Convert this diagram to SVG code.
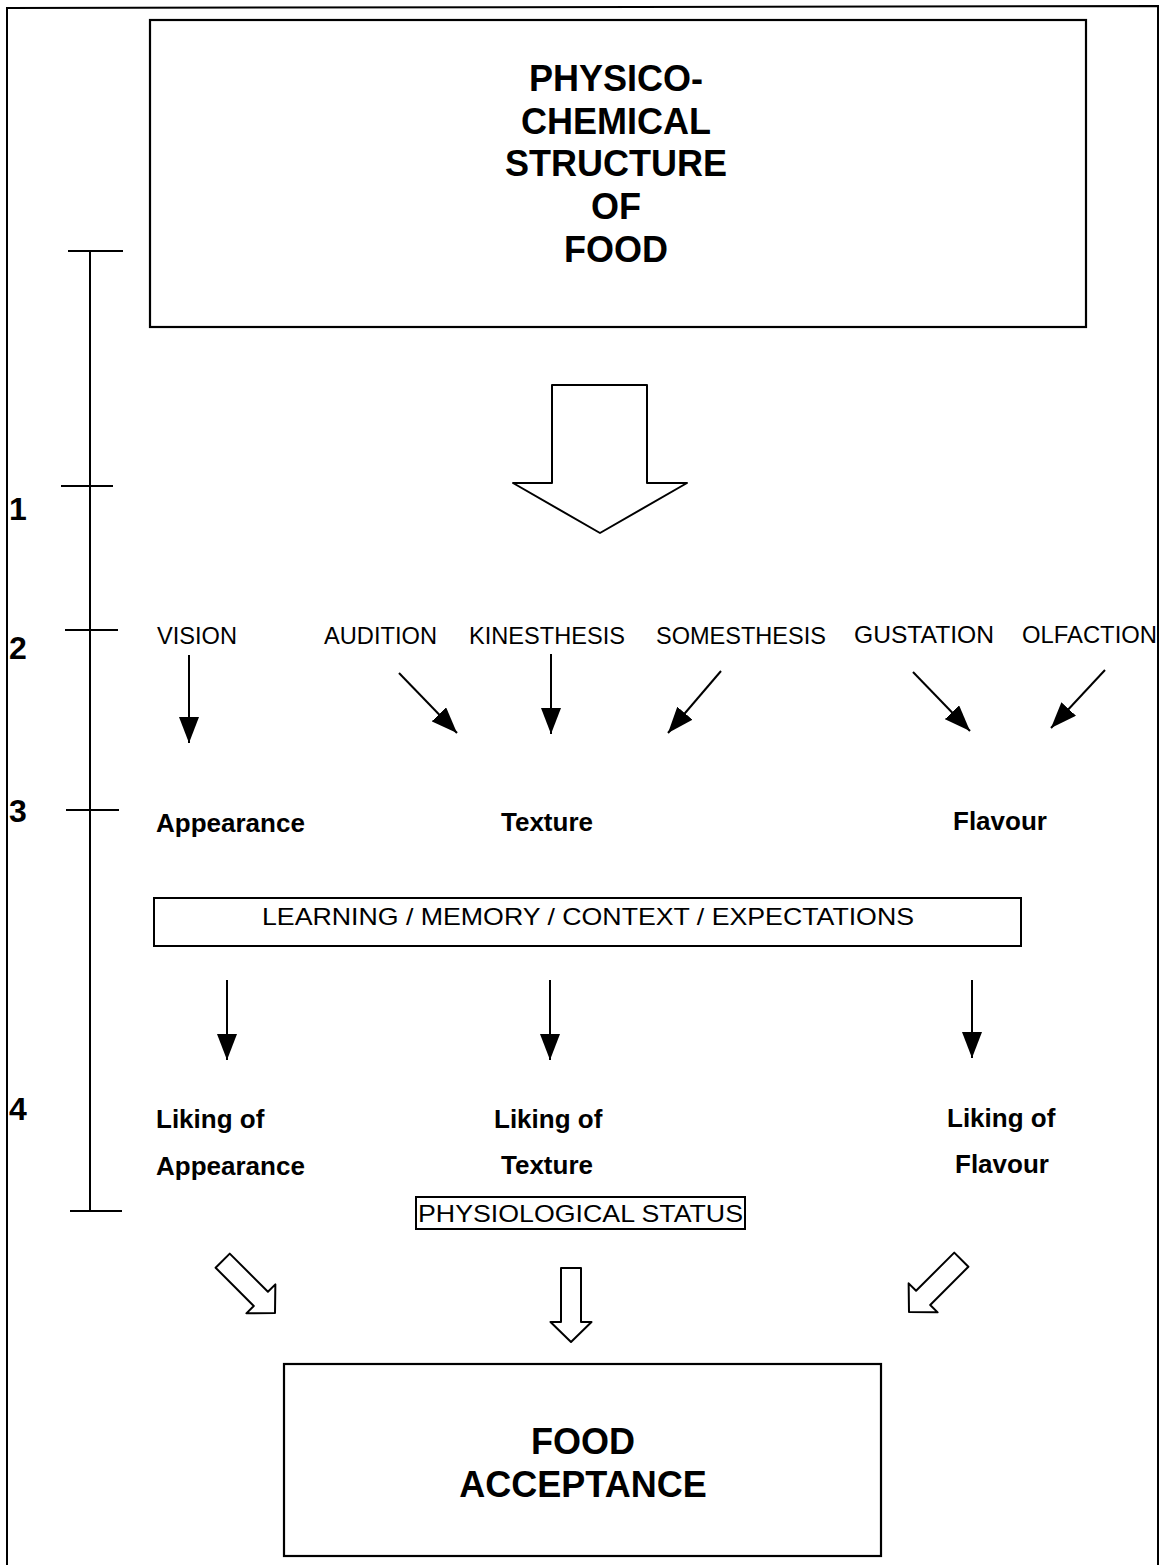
<svg xmlns="http://www.w3.org/2000/svg" width="1162" height="1565" viewBox="0 0 1162 1565">
<defs>
<style>
.box{fill:none;stroke:#000;stroke-width:2.2}
.ln{fill:none;stroke:#000;stroke-width:2}
.hol{fill:#fff;stroke:#000;stroke-width:2;stroke-linejoin:round}
.big{font-family:"Liberation Sans",Arial,sans-serif;font-weight:bold;font-size:36px;text-anchor:middle}
.lab{font-family:"Liberation Sans",Arial,sans-serif;font-weight:bold;font-size:26px}
.num{font-family:"Liberation Sans",Arial,sans-serif;font-weight:bold;font-size:32px}
.sense{font-family:"Liberation Sans",Arial,sans-serif;font-size:24px}
</style>
<marker id="ah" viewBox="0 0 26 20" refX="26" refY="10" markerWidth="26" markerHeight="20" markerUnits="userSpaceOnUse" orient="auto">
<path d="M0,0 L26,10 L0,20 z" fill="#000"/>
</marker>
<polygon id="hollow" points="-10,-74 10,-74 10,-20 20.5,-20 0,0 -20.5,-20 -10,-20"/>
</defs>
<rect width="1162" height="1565" fill="#fff"/>
<path class="ln" d="M7,1570 L7,8 L1158,6 L1158,1570" stroke-width="1.5"/>

<g id="scale">
<line class="ln" x1="90" y1="251" x2="90" y2="1211"/>
<line class="ln" x1="68" y1="251" x2="123" y2="251"/>
<line class="ln" x1="61" y1="486" x2="113" y2="486"/>
<line class="ln" x1="65" y1="630" x2="118" y2="630"/>
<line class="ln" x1="66" y1="810" x2="119" y2="810"/>
<line class="ln" x1="70" y1="1211" x2="122" y2="1211"/>
<text class="num" x="9" y="520">1</text>
<text class="num" x="9" y="659">2</text>
<text class="num" x="9" y="822">3</text>
<text class="num" x="9" y="1120">4</text>
</g>

<g id="physico">
<rect class="box" x="150" y="20" width="936" height="307"/>
<text class="big" x="616" y="91">PHYSICO-</text>
<text class="big" x="616" y="134">CHEMICAL</text>
<text class="big" x="616" y="176">STRUCTURE</text>
<text class="big" x="616" y="219">OF</text>
<text class="big" x="616" y="262">FOOD</text>
</g>

<g id="bigarrow">
<polygon class="hol" points="552,385 647,385 647,483 687,483 600,533 513,483 552,483" stroke-linejoin="miter"/>
</g>

<g id="senses">
<text class="sense" x="157" y="644" textLength="80" lengthAdjust="spacingAndGlyphs">VISION</text>
<text class="sense" x="324" y="644" textLength="113" lengthAdjust="spacingAndGlyphs">AUDITION</text>
<text class="sense" x="469" y="644" textLength="156" lengthAdjust="spacingAndGlyphs">KINESTHESIS</text>
<text class="sense" x="656" y="644" textLength="170" lengthAdjust="spacingAndGlyphs">SOMESTHESIS</text>
<text class="sense" x="854" y="643" textLength="140" lengthAdjust="spacingAndGlyphs">GUSTATION</text>
<text class="sense" x="1022" y="643" textLength="135" lengthAdjust="spacingAndGlyphs">OLFACTION</text>
</g>

<g id="attributes">
<text class="lab" x="156" y="832">Appearance</text>
<text class="lab" x="501" y="831">Texture</text>
<text class="lab" x="953" y="830">Flavour</text>
</g>

<g id="learning">
<rect class="ln" x="154" y="898" width="867" height="48" stroke-width="1.5"/>
<text class="sense" x="262" y="925" textLength="652" lengthAdjust="spacingAndGlyphs">LEARNING / MEMORY / CONTEXT / EXPECTATIONS</text>
</g>

<g id="liking">
<text class="lab" x="156" y="1128">Liking of</text>
<text class="lab" x="156" y="1175">Appearance</text>
<text class="lab" x="494" y="1128">Liking of</text>
<text class="lab" x="501" y="1174">Texture</text>
<text class="lab" x="947" y="1127">Liking of</text>
<text class="lab" x="955" y="1173">Flavour</text>
</g>

<g id="physiological">
<rect class="ln" x="416" y="1197" width="329" height="32" stroke-width="1.5"/>
<text class="sense" x="418" y="1222" textLength="325" lengthAdjust="spacingAndGlyphs">PHYSIOLOGICAL STATUS</text>
</g>

<g id="acceptance">
<rect class="box" x="284" y="1364" width="597" height="192"/>
<text class="big" x="583" y="1454">FOOD</text>
<text class="big" x="583" y="1497">ACCEPTANCE</text>
</g>

<g id="connectors">
<line class="ln" x1="189" y1="655" x2="189" y2="743" marker-end="url(#ah)"/>
<line class="ln" x1="399" y1="673" x2="457" y2="733" marker-end="url(#ah)"/>
<line class="ln" x1="551" y1="654" x2="551" y2="734" marker-end="url(#ah)"/>
<line class="ln" x1="721" y1="671" x2="668" y2="733" marker-end="url(#ah)"/>
<line class="ln" x1="913" y1="672" x2="970" y2="731" marker-end="url(#ah)"/>
<line class="ln" x1="1105" y1="670" x2="1051" y2="728" marker-end="url(#ah)"/>
<line class="ln" x1="227" y1="980" x2="227" y2="1060" marker-end="url(#ah)"/>
<line class="ln" x1="550" y1="980" x2="550" y2="1060" marker-end="url(#ah)"/>
<line class="ln" x1="972" y1="980" x2="972" y2="1058" marker-end="url(#ah)"/>
<use href="#hollow" class="hol" transform="translate(275,1313) rotate(-45)"/>
<use href="#hollow" class="hol" transform="translate(571,1342)"/>
<use href="#hollow" class="hol" transform="translate(909,1312) rotate(45)"/>
</g>
</svg>
